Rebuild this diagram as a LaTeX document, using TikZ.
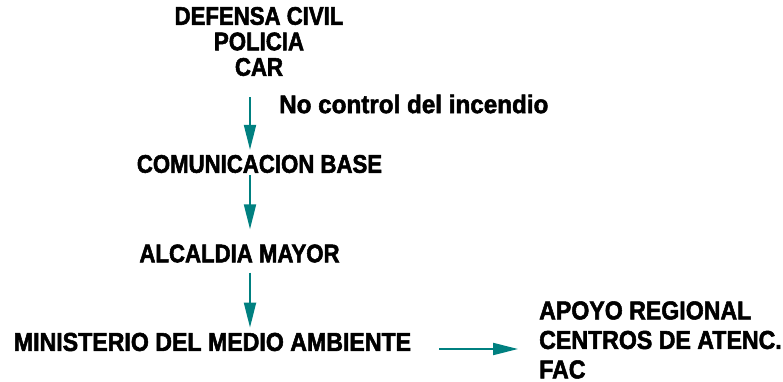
\documentclass[tikz,border=0pt]{standalone}
\usepackage{fontspec}
\usepackage{tikz}
\usetikzlibrary{arrows.meta}
\newfontfamily\capsfont[FakeStretch=0.87,FakeBold=2]{Liberation Sans}
\newfontfamily\lowcapsfont[FakeStretch=0.89,FakeBold=2]{Liberation Sans}
\newfontfamily\notefont[FakeStretch=0.95,FakeBold=2]{Liberation Sans}
\definecolor{flechacol}{RGB}{0,128,128}

\begin{document}
\begin{tikzpicture}[x=1pt,y=-1pt,
        ente/.style={inner sep=0pt, font=\capsfont\bfseries\fontsize{25.5}{25.5}\selectfont},
        bajo/.style={inner sep=0pt, font=\lowcapsfont\bfseries\fontsize{26}{29.5}\selectfont},
        flecha/.style={flechacol, line width=2pt, -{Triangle[length=25pt,width=12pt]}}]
        \useasboundingbox (0,0) rectangle (783,381);

        \coordinate (eje) at (250,0);

        \node[ente, align=center] (grupos) at (259,41.5) {DEFENSA CIVIL\\POLICIA\\CAR};
        \node[inner sep=0pt, anchor=west, font=\notefont\bfseries\fontsize{25.5}{25.5}\selectfont] (nota) at (279,104) {No control del incendio};
        \node[ente] (base) at (259.5,164) {COMUNICACION BASE};
        \node[ente] (alcaldia) at (239.5,253.5) {ALCALDIA MAYOR};
        \node[bajo] (ministerio) at (212.5,342) {MINISTERIO DEL MEDIO AMBIENTE};
        \node[bajo, anchor=west, align=left] (apoyo) at (539,340) {APOYO REGIONAL\\CENTROS DE ATENC.\\FAC};

        \draw [flecha, shorten <=21pt, shorten >=5pt] (grupos.south -| eje) -- (base.north -| eje);
        \draw [flecha, shorten <=2pt, shorten >=15pt] (base.south -| eje) -- (alcaldia.north -| eje);
        \draw [flecha, shorten <=10pt, shorten >=5pt] (alcaldia.south -| eje) -- (ministerio.north -| eje);
        \draw [flecha, shorten <=28pt, shorten >=21pt] ([yshift=-7pt]ministerio.east) -- ([yshift=-7pt]ministerio.east -| apoyo.west);
\end{tikzpicture}
\end{document}
